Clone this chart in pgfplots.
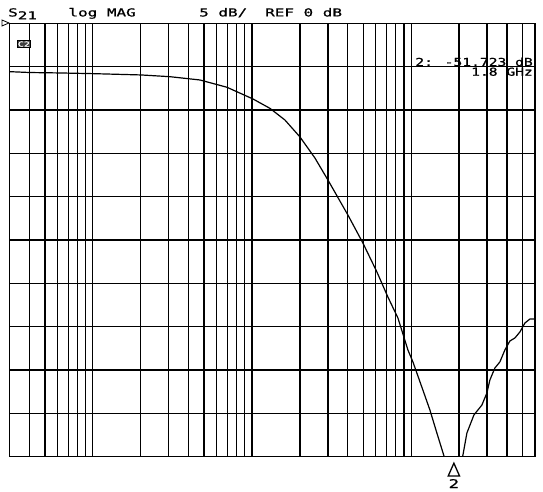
\documentclass[border=0pt]{standalone}
\usepackage{pgfplots}
\pgfplotsset{compat=1.18}
\usepackage{fontspec}
\newfontfamily\plotfont[FakeStretch=1.45,FakeBold=1]{DejaVu Sans Mono}
\newfontfamily\markfont[FakeStretch=1.33,FakeBold=1]{DejaVu Sans Mono}
\begin{document}
\begin{tikzpicture}
\begin{axis}[
  scale only axis,
  width=525.4bp, height=433.4bp,
  xmode=log, log basis x=10,
  xmin=3, xmax=6000, ymin=-50, ymax=0,
  xtick={3,4,5,6,7,8,9,10,20,30,40,50,60,70,80,90,100,200,300,400,500,600,700,800,900,1000,2000,3000,4000,5000,6000},
  ytick={-50,-45,-40,-35,-30,-25,-20,-15,-10,-5,0},
  xticklabels={}, yticklabels={},
  major tick length=0pt,
  grid=major,
  major grid style={black, line width=1.3bp},
  axis line style={black, line width=1.3bp},
  clip mode=individual,
]
\addplot[black, line width=1.2bp] coordinates {
(3.00,-5.58) (4.03,-5.68) (6.22,-5.73) (10.07,-5.81) (20.1,-5.96) (30.5,-6.16)
(47.1,-6.54) (69.6,-7.38) (101.4,-8.73) (129.6,-9.81) (161.1,-11.16) (200.1,-13.11)
(248.5,-15.54) (300,-18.08) (400.6,-22.12) (497.6,-25.35) (609.5,-28.69) (714.5,-31.58)
(825.9,-34.0) (954.4,-37.69) (1026,-39.07) (1185,-42.31) (1312,-44.62) (1451,-47.27)
(1613,-50.0) (1700,-51.2) (1800,-51.723) (1950,-51.3) (2106,-50.0) (2240,-47.27)
(2479,-45.19) (2783,-44.04) (2991,-42.65) (3124,-41.15) (3357,-39.77) (3609,-39.07)
(3881,-37.69) (4172,-36.65) (4484,-36.31) (4820,-35.62) (5183,-34.58) (5572,-34.12) (6000,-34.12)
};
% bounding box corners (543 x 492 picture)
\coordinate (bl) at (rel axis cs:-0.01827,-0.08145);
\coordinate (tr) at (rel axis cs:1.01523,1.05376);
% header text
\node[anchor=base west, inner sep=0, font=\plotfont\fontsize{11bp}{13bp}\selectfont] at (rel axis cs:-0.00304,1.01587) {S};
\node[anchor=base west, inner sep=0, font=\plotfont\fontsize{11bp}{13bp}\selectfont] at (rel axis cs:0.01523,1.00896) {21};
\node[anchor=base west, inner sep=0, font=\plotfont\fontsize{11bp}{13bp}\selectfont] at (rel axis cs:0.11173,1.01587) {log MAG};
\node[anchor=base west, inner sep=0, font=\plotfont\fontsize{11bp}{13bp}\selectfont] at (rel axis cs:0.36049,1.01587) {5 dB/};
\node[anchor=base west, inner sep=0, font=\plotfont\fontsize{11bp}{13bp}\selectfont] at (rel axis cs:0.48611,1.01587) {REF 0 dB};
% marker readout
\node[anchor=base east, inner sep=0, font=\markfont\fontsize{11bp}{13bp}\selectfont] at (rel axis cs:0.99619,0.9015) {2: -51.723 dB};
\node[anchor=base east, inner sep=0, font=\markfont\fontsize{11bp}{13bp}\selectfont] at (rel axis cs:0.99619,0.87898) {1.8 GHz};
% reference level arrow
\draw[black, line width=0.8bp] (rel axis cs:-0.0145,1.0076) -- (rel axis cs:-0.0145,0.9938) -- (rel axis cs:-0.0012,1.0007) -- cycle;
% status box
\node[draw=black, fill=black!75, text=white, inner sep=0.6bp, line width=0.7bp, font=\plotfont\fontsize{7bp}{7bp}\selectfont] at (rel axis cs:0.0272,0.9520) {C2};
% marker 2 triangle below axis
\draw[black, line width=1.3bp] (rel axis cs:0.8456,-0.0150) -- (rel axis cs:0.8348,-0.0446) -- (rel axis cs:0.8564,-0.0446) -- cycle;
\node[anchor=base, inner sep=0, font=\plotfont\fontsize{12bp}{13bp}\selectfont] at (rel axis cs:0.8456,-0.0723) {2};
\end{axis}
\pgfresetboundingbox
\path[use as bounding box] (bl) rectangle (tr);
\end{tikzpicture}
\end{document}
